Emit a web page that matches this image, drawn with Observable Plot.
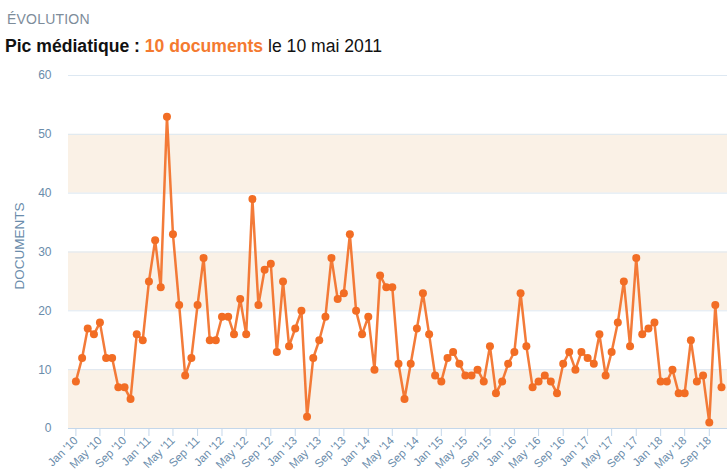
<!DOCTYPE html>
<html>
<head>
<meta charset="utf-8">
<script src="https://cdn.jsdelivr.net/npm/d3@7"></script>
<script src="https://cdn.jsdelivr.net/npm/@observablehq/plot@0.6"></script>
<style>
  html, body { margin: 0; padding: 0; background: #fff; }
  body { width: 727px; height: 473px; position: relative; overflow: hidden; font-family: "Liberation Sans", Arial, sans-serif; }
  #kicker { position: absolute; left: 7px; top: 11px; font-size: 14px; color: #7d8c9a; letter-spacing: 0.2px; }
  #title { position: absolute; left: 5px; top: 36px; font-size: 17.6px; color: #111; white-space: nowrap; }
  #title b { font-weight: bold; }
  #title .hi { color: #f47a30; font-weight: bold; }
  #chart { position: absolute; left: 0; top: 60px; }
  #chart svg [aria-label="x-axis tick"] { stroke: #c4d7ea; }
</style>
</head>
<body>
<div id="kicker">ÉVOLUTION</div>
<div id="title"><b>Pic médiatique : </b><span class="hi">10 documents</span> le 10 mai 2011</div>
<div id="chart"></div>
<script>
// Monthly document counts, Jan 2010 onwards
const startMonth = "2010-01-01";
const documents = [
  8, 12, 17, 16, 18, 12, 12, 7, 7, 5, 16, 15,
  25, 32, 24, 53, 33, 21, 9, 12, 21, 29, 15, 15,
  19, 19, 16, 22, 16, 39, 21, 27, 28, 13, 25, 14,
  17, 20, 2, 12, 15, 19, 29, 22, 23, 33, 20, 16,
  19, 10, 26, 24, 24, 11, 5, 11, 17, 23, 16, 9,
  8, 12, 13, 11, 9, 9, 10, 8, 14, 6, 8, 11,
  13, 23, 14, 7, 8, 9, 8, 6, 11, 13, 10, 13,
  12, 11, 16, 9, 13, 18, 25, 14, 29, 16, 17, 18,
  8, 8, 10, 6, 6, 15, 8, 9, 1, 21, 7
];
const xTickMonths = [
  "2010-01", "2010-05", "2010-09", "2011-01", "2011-05", "2011-09",
  "2012-01", "2012-05", "2012-09", "2013-01", "2013-05", "2013-09",
  "2014-01", "2014-05", "2014-09", "2015-01", "2015-05", "2015-09",
  "2016-01", "2016-05", "2016-09", "2017-01", "2017-05", "2017-09",
  "2018-01", "2018-05", "2018-09"
];
const yTicks = [0, 10, 20, 30, 40, 50, 60];
const xDomain = ["2009-11-25", "2018-12-01"];

const orange = "#f26d24";
const labelColor = "#6a8cab";
const gridColor = "#dde8f2";
const bandColor = "#faf1e6";

const start = new Date(startMonth);
const data = documents.map((v, i) => ({ date: d3.utcMonth.offset(start, i), value: v }));
const xTicks = xTickMonths.map(s => new Date(s + "-01"));
const bands = yTicks.slice(0, -1)
  .map((t, i) => ({ y1: t, y2: yTicks[i + 1], i }))
  .filter(d => d.i % 2 === 0);

const fmt = d3.utcFormat("%b '%y");

const chart = Plot.plot({
  width: 727,
  height: 413,
  marginLeft: 68,
  marginRight: 0,
  marginTop: 15,
  marginBottom: 45,
  style: { fontFamily: '"Liberation Sans", Arial, sans-serif', background: "transparent", overflow: "visible" },
  x: { type: "utc", domain: xDomain.map(s => new Date(s)) },
  y: { domain: [0, 60] },
  marks: [
    Plot.rect(bands, { y1: "y1", y2: "y2", fill: bandColor }),
    Plot.gridY(yTicks.slice(1), { stroke: gridColor, strokeOpacity: 1 }),
    Plot.ruleY([0], { stroke: "#c4d7ea" }),
    Plot.axisY(yTicks, { tickSize: 0, tickPadding: 17, fontSize: 12, fill: labelColor, color: labelColor, label: null }),
    Plot.axisX(xTicks, {
      tickSize: 8, tickPadding: 2, tickRotate: -45, fontSize: 11.5,
      tickFormat: fmt, fill: labelColor, stroke: "#c4d7ea", label: null
    }),
    Plot.text(["DOCUMENTS"], { frameAnchor: "left", textAnchor: "middle", rotate: -90, dx: -49, dy: -6, fontSize: 13.5, fill: labelColor }),
    Plot.line(data, { x: "date", y: "value", stroke: orange, strokeWidth: 2.5, strokeOpacity: 0.9 }),
    Plot.dot(data, { x: "date", y: "value", r: 4, fill: orange, stroke: "none" })
  ]
});
document.getElementById("chart").appendChild(chart);
</script>
</body>
</html>
